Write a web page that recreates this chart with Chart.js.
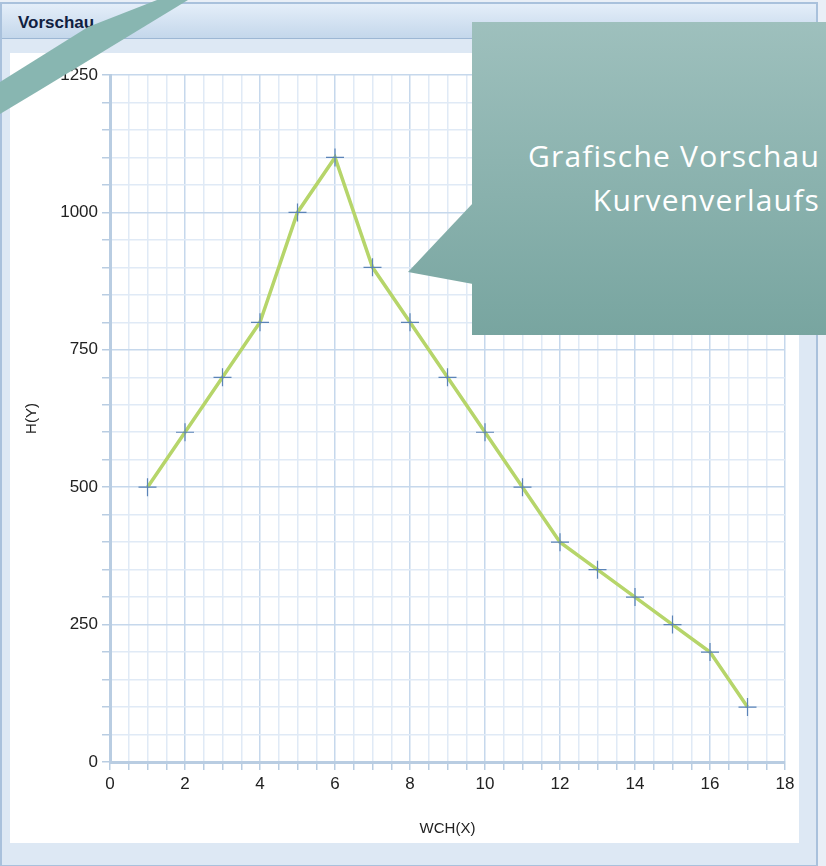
<!DOCTYPE html>
<html>
<head>
<meta charset="utf-8">
<script src="https://cdn.jsdelivr.net/npm/chart.js@4.4.1/dist/chart.umd.min.js"></script>
<style>
  html, body { margin: 0; padding: 0; }
  body { width: 826px; height: 866px; background: #e9eff7; position: relative; overflow: hidden; font-family: "Liberation Sans", Arial, sans-serif; }
  #frame { position: absolute; left: 0; top: 2px; width: 814px; height: 861px; background: #dde8f4; border: 2px solid #a9c1dc; }
  #bar { position: absolute; left: 0; top: 0; width: 814px; height: 34px; background: linear-gradient(#e4eef9, #c4d7eb); border-bottom: 1px solid #9db7d4; }
  #bar span { position: absolute; left: 16px; top: 9px; font-weight: bold; font-size: 17px; color: #10203f; }
  #panel { position: absolute; left: 10px; top: 53px; width: 789px; height: 790px; background: #fff; }
  #over { position: absolute; left: 0; top: 0; }
  .callout { position: absolute; right: 6px; color: #fff; font-family: "Open Sans", sans-serif; font-size: 30px; letter-spacing: 1.2px; font-weight: 400; white-space: nowrap; }
</style>
</head>
<body>
<div id="frame"><div id="bar"><span>Vorschau</span></div></div>
<div id="panel"><canvas id="c" width="789" height="790"></canvas></div>
<svg id="over" width="826" height="866">
  <defs>
    <linearGradient id="g" gradientUnits="userSpaceOnUse" x1="0" y1="22" x2="0" y2="335">
      <stop offset="0" stop-color="#9ec0bd"/>
      <stop offset="1" stop-color="#78a5a0"/>
    </linearGradient>
  </defs>
  <polygon points="157,0 188,0 40,90 0,114 0,82 40,57 88,27" fill="#88b6b1"/>
  <rect x="472" y="22" width="360" height="313" fill="url(#g)"/>
  <polygon points="473,203 408,272 473,284" fill="url(#g)"/>
</svg>
<div class="callout" style="top:135px">Grafische Vorschau</div>
<div class="callout" style="top:179px">Kurvenverlaufs</div>
<script>
var xValues = [1, 2, 3, 4, 5, 6, 7, 8, 9, 10, 11, 12, 13, 14, 15, 16, 17];
var yValues = [500, 600, 700, 800, 1000, 1100, 900, 800, 700, 600, 500, 400, 350, 300, 250, 200, 100];
var xLabelStep = 2;
var yLabelStep = 250;

var points = [];
for (var i = 0; i < xValues.length; i++) {
    points.push({x: xValues[i], y: yValues[i]});
}

var axisColor = '#b9cde2';
var tickFont = {family: 'Liberation Sans', size: 17};
var titleFont = {family: 'Liberation Sans', size: 15};

new Chart(document.getElementById('c'), {
    type: 'line',
    data: {
        datasets: [{
            data: points,
            borderColor: '#b6d56a',
            borderWidth: 3.5,
            tension: 0,
            fill: false,
            pointStyle: 'cross',
            pointRadius: 9,
            pointBorderColor: '#5b84b8',
            pointBorderWidth: 1.2,
            pointHoverRadius: 9
        }]
    },
    options: {
        responsive: false,
        animation: false,
        layout: {padding: {left: 0, top: 22, right: 14, bottom: 0}},
        plugins: {legend: {display: false}, tooltip: {enabled: false}},
        scales: {
            x: {
                type: 'linear',
                min: 0,
                max: 18,
                afterFit: function (s) { s.height = 81; },
                ticks: {
                    stepSize: 0.5,
                    autoSkip: false,
                    maxRotation: 0,
                    padding: 4,
                    color: '#222',
                    font: tickFont,
                    callback: function (v) { return v % xLabelStep === 0 ? v : ''; }
                },
                grid: {
                    color: function (ctx) { return ctx.tick && ctx.tick.value % xLabelStep === 0 ? '#c6d8ec' : '#e0eaf6'; },
                    tickColor: axisColor,
                    tickLength: 8,
                    lineWidth: 1.5
                },
                border: {color: axisColor, width: 3},
                title: {display: true, text: 'WCH(X)', color: '#222', font: titleFont, padding: {top: 0, bottom: 5}}
            },
            y: {
                min: 0,
                max: 1250,
                afterFit: function (s) { s.width = 100; },
                ticks: {
                    stepSize: 50,
                    autoSkip: false,
                    padding: 4,
                    color: '#222',
                    font: tickFont,
                    callback: function (v) { return v % yLabelStep === 0 ? v : ''; }
                },
                grid: {
                    color: function (ctx) { return ctx.tick && ctx.tick.value % yLabelStep === 0 ? '#c6d8ec' : '#e0eaf6'; },
                    tickColor: axisColor,
                    tickLength: 8,
                    lineWidth: 1.5
                },
                border: {color: axisColor, width: 3},
                title: {display: true, text: 'H(Y)', color: '#222', font: titleFont, padding: {top: 13, bottom: 0}}
            }
        }
    }
});
</script>
</body>
</html>
